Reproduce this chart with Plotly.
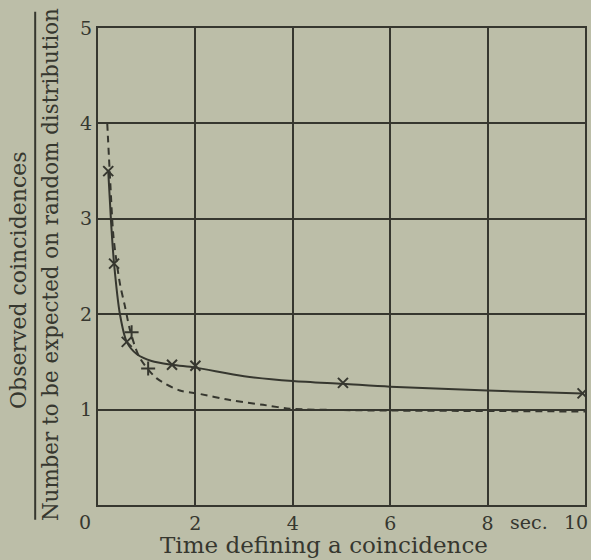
import plotly.graph_objects as go

# Observed curve (solid)
solid_x = [0.21, 0.27, 0.33, 0.45, 0.59, 0.8, 1.1, 1.52, 2.0, 3.0, 4.0, 5.03, 6.0, 8.0, 9.95]
solid_y = [3.5, 2.95, 2.53, 2.0, 1.71, 1.58, 1.51, 1.47, 1.44, 1.35, 1.30, 1.27, 1.24, 1.20, 1.17]

# Dashed curve
dash_x = [0.19, 0.25, 0.32, 0.45, 0.55, 0.66, 0.85, 1.2, 1.68, 2.03, 2.71, 3.39, 3.94, 5.0, 6.0, 8.0, 10.0]
dash_y = [4.0, 3.4, 2.8, 2.32, 2.09, 1.83, 1.55, 1.33, 1.2, 1.17, 1.10, 1.05, 1.01, 0.995, 0.99, 0.985, 0.98]

# Marked points
cross_x = [0.21, 0.33, 0.59, 1.52, 2.0, 5.03, 9.95]
cross_y = [3.5, 2.53, 1.71, 1.47, 1.46, 1.28, 1.17]
plus_x = [0.69, 1.03]
plus_y = [1.81, 1.43]

x_ticks = [2, 4, 6, 8, 10]
x_tick_text = ["2", "4", "6", "8", ""]  # "10" drawn as a right-aligned note so it stays in the window
y_ticks = [1, 2, 3, 4, 5]

ink = "#36372f"
paper = "#bcbea8"
font = "DejaVu Serif"

fig = go.Figure()
fig.add_trace(go.Scatter(x=solid_x, y=solid_y, mode="lines", line=dict(color=ink, width=2, shape="spline", smoothing=0.8), hoverinfo="skip"))
fig.add_trace(go.Scatter(x=dash_x, y=dash_y, mode="lines", line=dict(color=ink, width=2, dash="7px,5px", shape="spline", smoothing=0.8), hoverinfo="skip"))
fig.add_trace(go.Scatter(x=cross_x, y=cross_y, mode="markers", marker=dict(symbol="x-thin", size=10, line=dict(color=ink, width=2))))
fig.add_trace(go.Scatter(x=plus_x, y=plus_y, mode="markers", marker=dict(symbol="cross-thin", size=10, line=dict(color=ink, width=2))))

def note(text, x, y, size, angle=0, xanchor="center"):
    return dict(text=text, xref="paper", yref="paper", x=x, y=y, xanchor=xanchor, yanchor="middle",
                textangle=angle, showarrow=False, font=dict(size=size, family=font, color=ink))

fig.update_layout(
    width=591, height=560,
    margin=dict(l=98, r=6, t=28, b=55),
    paper_bgcolor=paper, plot_bgcolor=paper,
    showlegend=False,
    font=dict(family=font, size=19, color=ink),
    xaxis=dict(range=[0, 10], tickvals=x_ticks, ticktext=x_tick_text,
               showgrid=True, gridcolor=ink, gridwidth=2, showline=True, linecolor=ink, linewidth=2,
               mirror=True, zeroline=False, ticks="", automargin=False, ticklabeloverflow="allow",
               tickfont=dict(size=19, family=font)),
    yaxis=dict(range=[0, 5], tickvals=y_ticks, ticktext=[str(v) for v in y_ticks],
               showgrid=True, gridcolor=ink, gridwidth=2, showline=True, linecolor=ink, linewidth=2,
               mirror=True, zeroline=False, ticks="", automargin=False, ticklabeloverflow="allow",
               tickfont=dict(size=19, family=font)),
    annotations=[
        note("0", -0.027, -0.036, 19),
        note("sec.", 0.885, -0.036, 19),
        note(str(x_ticks[-1]), 1.011, -0.036, 19, xanchor="right"),
        note("Time defining a coincidence", 0.465, -0.0839, 23),
        note("Observed coincidences", -0.162, 0.472, 22, -90),
        note("Number to be expected on random distribution", -0.0986, 0.505, 21.4, -90),
    ],
    shapes=[dict(type="line", xref="paper", yref="paper", x0=-0.129, x1=-0.129, y0=-0.031, y1=1.034,
                 line=dict(color=ink, width=2))],
)

fig.write_html("out.html", config={"displayModeBar": False},
               post_script="document.body.style.margin='0px';")
